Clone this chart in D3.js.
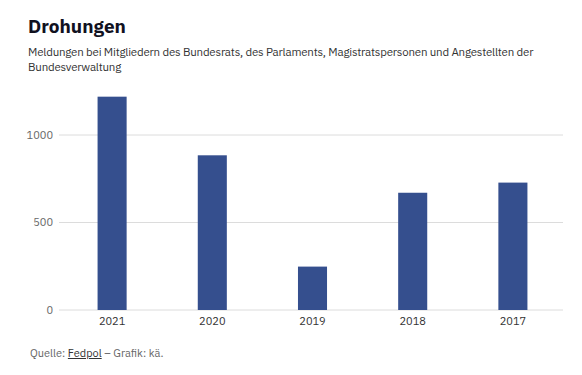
<!DOCTYPE html>
<html>
<head>
<meta charset="utf-8">
<script src="https://cdn.jsdelivr.net/npm/d3@7"></script>
<style>
  body { margin: 0; background: #fff; font-family: "IBM Plex Sans", "Noto Sans", sans-serif; }
  #chart { position: relative; width: 582px; height: 375px; }
  .title { position: absolute; left: 28px; top: 14px; font-size: 19px; font-weight: 700; color: #11111f; }
  .subtitle { position: absolute; left: 28px; top: 44px; width: 540px; font-size: 11.5px; letter-spacing: -0.2px; line-height: 15px; color: #333; }
  .source { position: absolute; left: 30px; top: 346px; font-size: 11px; color: #666; }
  .source span { text-decoration: underline; color: #333; }
</style>
</head>
<body>
<div id="chart">
  <div class="title">Drohungen</div>
  <div class="subtitle">Meldungen bei Mitgliedern des Bundesrats, des Parlaments, Magistratspersonen und Angestellten der Bundesverwaltung</div>
  <div class="source">Quelle: <span>Fedpol</span> – Grafik: kä.</div>
</div>
<script>
// values
const years = ['2021', '2020', '2019', '2018', '2017'];
const reports = [1219, 884, 248, 670, 728];
const yTicks = [0, 500, 1000];

const width = 582, height = 375;

const svg = d3.select('#chart').append('svg')
    .attr('width', width)
    .attr('height', height)
    .style('position', 'absolute')
    .style('left', 0)
    .style('top', 0);

const x = d3.scaleBand()
    .domain(years)
    .range([62, 563])
    .paddingInner(0.71)
    .paddingOuter(0.355);

const y = d3.scaleLinear()
    .domain([0, 1000])
    .range([310, 135]);

// gridlines
svg.append('g')
    .selectAll('line')
    .data(yTicks)
    .join('line')
    .attr('x1', 59)
    .attr('x2', 563)
    .attr('y1', d => y(d))
    .attr('y2', d => y(d))
    .attr('stroke', '#dcdcdc')
    .attr('stroke-width', 1);

// y axis labels
svg.append('g')
    .selectAll('text')
    .data(yTicks)
    .join('text')
    .attr('x', 53)
    .attr('y', d => y(d))
    .attr('dy', '0.35em')
    .attr('text-anchor', 'end')
    .style('font-size', '11px')
    .style('fill', '#666')
    .text(d => d);

// bars
svg.append('g')
    .selectAll('rect')
    .data(years)
    .join('rect')
    .attr('x', d => x(d))
    .attr('width', x.bandwidth())
    .attr('y', (d, i) => y(reports[i]))
    .attr('height', (d, i) => y(0) - y(reports[i]))
    .attr('fill', '#354f8e');

// x labels
svg.append('g')
    .selectAll('text')
    .data(years)
    .join('text')
    .attr('x', d => x(d) + x.bandwidth() / 2)
    .attr('y', 325)
    .attr('text-anchor', 'middle')
    .style('font-size', '11px')
    .style('fill', '#333')
    .text(d => d);
</script>
</body>
</html>
